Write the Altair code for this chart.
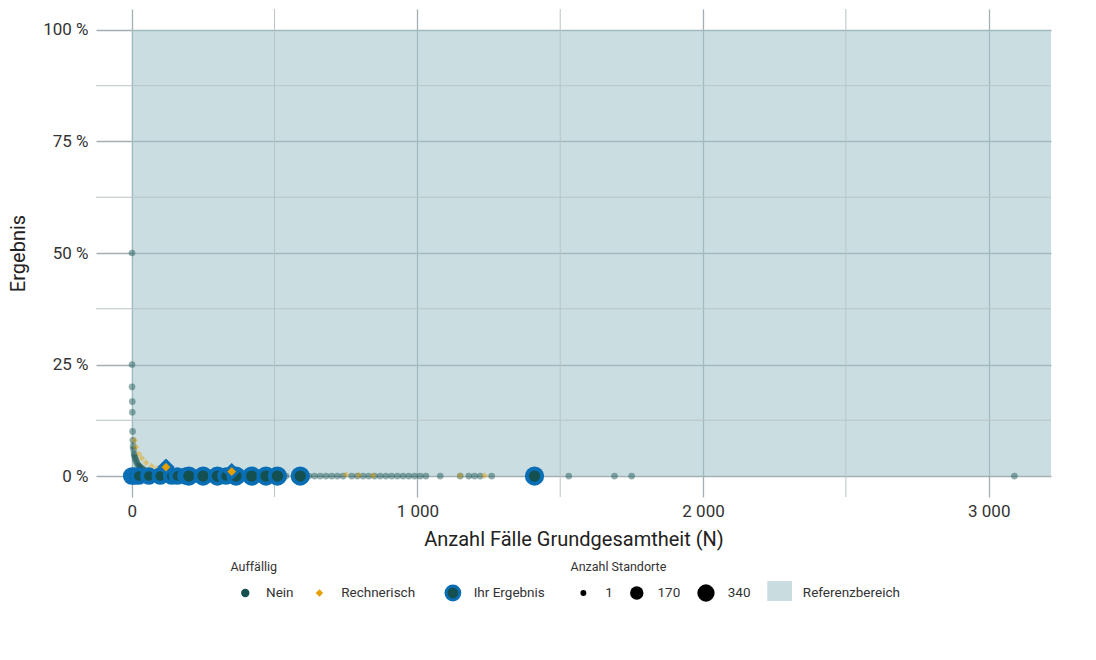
import pandas as pd
import altair as alt

FONT = "Roboto"
TEAL = "#14504f"
ORANGE = "#e69f00"
BLUE = "#0a6eb4"

# background sites, "Nein"
nein_x = [1, 1, 1, 2, 2, 3, 4, 5, 6, 8, 10, 12, 15, 18, 22, 26, 30, 35, 40, 50, 60, 70, 85, 100, 120,
          0, 10, 40, 80, 150, 220, 260, 300, 380, 430, 480, 540, 600, 620, 640, 660, 680, 700, 720,
          740, 770, 790, 810, 830, 850, 870, 890, 910, 930, 950, 970, 990, 1010, 1030, 1080, 1150,
          1180, 1200, 1220, 1260, 1530, 1690, 1750, 3090]
nein_y = [0.50, 0.25, 0.20, 0.167, 0.143, 0.10, 0.08, 0.067, 0.06, 0.05, 0.045, 0.04, 0.035, 0.03,
          0.025, 0.022, 0.02, 0.017, 0.015, 0.012, 0.01, 0.008, 0.006, 0.005, 0.004,
          0, 0, 0, 0, 0, 0, 0, 0, 0, 0, 0, 0, 0, 0, 0, 0, 0, 0, 0, 0, 0, 0, 0, 0, 0, 0, 0, 0, 0, 0,
          0, 0, 0, 0, 0, 0, 0, 0, 0, 0, 0, 0, 0, 0]

# background sites, "Rechnerisch"
rech_x = [10, 15, 25, 35, 50, 70, 90, 300, 395, 750, 795, 845, 1150, 1235]
rech_y = [0.08, 0.065, 0.05, 0.04, 0.03, 0.022, 0.017, 0.004, 0.004, 0.003, 0.002, 0.001, 0.001, 0.001]

# own results
own_x = [0, 10, 25, 60, 100, 140, 160, 190, 200, 250, 300, 330, 365, 420, 470, 510, 590, 1410]
own_y = [0] * 18
own_n = [200, 200, 200, 200, 200, 200, 200, 200, 260, 260, 260, 200, 260, 260, 260, 260, 260, 260]
own_r_x = [120, 350]
own_r_y = [0.02, 0.01]

bg = pd.DataFrame({"x": nein_x + rech_x, "y": nein_y + rech_y,
                   "grp": ["Nein"] * len(nein_x) + ["Rechnerisch"] * len(rech_x)})
own = pd.DataFrame({"x": own_x, "y": own_y, "n": own_n})
own_r = pd.DataFrame({"x": own_r_x, "y": own_r_y})
band = pd.DataFrame({"x": [0], "x2": [3218], "y": [0], "y2": [1]})

W, H = 955, 488
xs = alt.Scale(domain=[-125, 3218], nice=False, zero=False)
ys = alt.Scale(domain=[-0.047, 1.047], nice=False)
sz = alt.Scale(domain=[1, 340], range=[20, 300])

xax = alt.Axis(title="Anzahl Fälle Grundgesamtheit (N)", values=[0, 1000, 2000, 3000],
               labelExpr="replace(format(datum.value, ',d'), ',', ' ')", ticks=False,
               domain=False, labelFontSize=17, titleFontSize=20, titleFontWeight="normal",
               labelColor="#333", titleColor="#222", labelPadding=6, titlePadding=10)
yax = alt.Axis(title="Ergebnis", values=[0, 0.25, 0.5, 0.75, 1],
               labelExpr="format(datum.value * 100, 'd') + ' %'", ticks=False, domain=False,
               labelFontSize=17, titleFontSize=20, titleFontWeight="normal",
               labelColor="#333", titleColor="#222", labelPadding=8, titlePadding=14)

minor_x = alt.Chart(pd.DataFrame({"v": [500, 1500, 2500]})).mark_rule(
    color="#b9c4c6", strokeWidth=1).encode(x=alt.X("v:Q", scale=xs))
minor_y = alt.Chart(pd.DataFrame({"v": [0.125, 0.375, 0.625, 0.875]})).mark_rule(
    color="#b9c4c6", strokeWidth=1).encode(y=alt.Y("v:Q", scale=ys))

band_l = alt.Chart(band).mark_rect(color="#9fc3c8", opacity=0.55).encode(
    x=alt.X("x:Q", scale=xs, axis=xax), x2="x2", y=alt.Y("y:Q", scale=ys, axis=yax), y2="y2")

bg_l = alt.Chart(bg).mark_point(filled=True, opacity=0.45, size=45).encode(
    x=alt.X("x:Q", scale=xs), y=alt.Y("y:Q", scale=ys),
    shape=alt.Shape("grp:N", scale=alt.Scale(domain=["Nein", "Rechnerisch"], range=["circle", "diamond"]), legend=None),
    color=alt.Color("grp:N", scale=alt.Scale(domain=["Nein", "Rechnerisch"], range=[TEAL, ORANGE]), legend=None))

own_l = alt.Chart(own).mark_point(filled=True, fill=TEAL, stroke=BLUE, strokeWidth=4, opacity=1).encode(
    x=alt.X("x:Q", scale=xs), y=alt.Y("y:Q", scale=ys), size=alt.Size("n:Q", scale=sz, legend=None))
own_rl = alt.Chart(own_r).mark_point(filled=True, shape="diamond", fill=ORANGE, stroke=BLUE,
                                      strokeWidth=3, opacity=1, size=170).encode(
    x=alt.X("x:Q", scale=xs), y=alt.Y("y:Q", scale=ys))

main = alt.layer(band_l, minor_x, minor_y, bg_l, own_l, own_rl).properties(width=W, height=H)

# manual legend
lx = alt.Scale(domain=[130, 1096], nice=False, zero=False)
ly = alt.Scale(domain=[656, 608], nice=False, zero=False)
LY = alt.Y("y:Q", scale=ly, axis=None)
LX = alt.X("x:Q", scale=lx, axis=None)
leg_titles = pd.DataFrame({"x": [266, 610], "y": [622, 622], "t": ["Auffällig", "Anzahl Standorte"]})
leg_labels = pd.DataFrame({"x": [302, 378, 512, 645, 698, 769, 845],
                           "y": [648] * 7,
                           "t": ["Nein", "Rechnerisch", "Ihr Ergebnis", "1", "170", "340", "Referenzbereich"]})


def sym(x, shape, fill, stroke, sw, size):
    return alt.Chart(pd.DataFrame({"x": [x], "y": [648]})).mark_point(
        filled=True, opacity=1, shape=shape, fill=fill, stroke=stroke, strokeWidth=sw, size=size
    ).encode(x=LX, y=LY)


syms = [sym(281, "circle", TEAL, TEAL, 0, 70), sym(356, "diamond", ORANGE, ORANGE, 0, 55),
        sym(491, "circle", TEAL, BLUE, 3, 190), sym(623, "circle", "black", "black", 0, 35),
        sym(677, "circle", "black", "black", 0, 180), sym(747, "circle", "black", "black", 0, 300)]
tt = alt.Chart(leg_titles).mark_text(align="left", fontSize=12.5, font=FONT, color="#333").encode(x=LX, y=LY, text="t:N")
tl = alt.Chart(leg_labels).mark_text(align="left", fontSize=13.5, font=FONT, color="#333").encode(x=LX, y=LY, text="t:N")
refbox = alt.Chart(pd.DataFrame({"x": [809], "x2": [834], "y": [636], "y2": [656]})).mark_rect(
    color="#c9dde0").encode(x=LX, x2="x2", y=LY, y2="y2")
legend = alt.layer(refbox, *syms, tt, tl).properties(width=W, height=48)

chart = alt.vconcat(main, legend, spacing=4).configure(
    font=FONT, padding={"left": 0, "right": 0, "top": 0, "bottom": 0}
).configure_view(strokeWidth=0, stroke=None).configure_axis(
    gridColor="#a3afb2", gridWidth=1.3, labelFont=FONT, titleFont=FONT)

chart.save("out.html", embed_options={"renderer": "svg", "actions": False})
